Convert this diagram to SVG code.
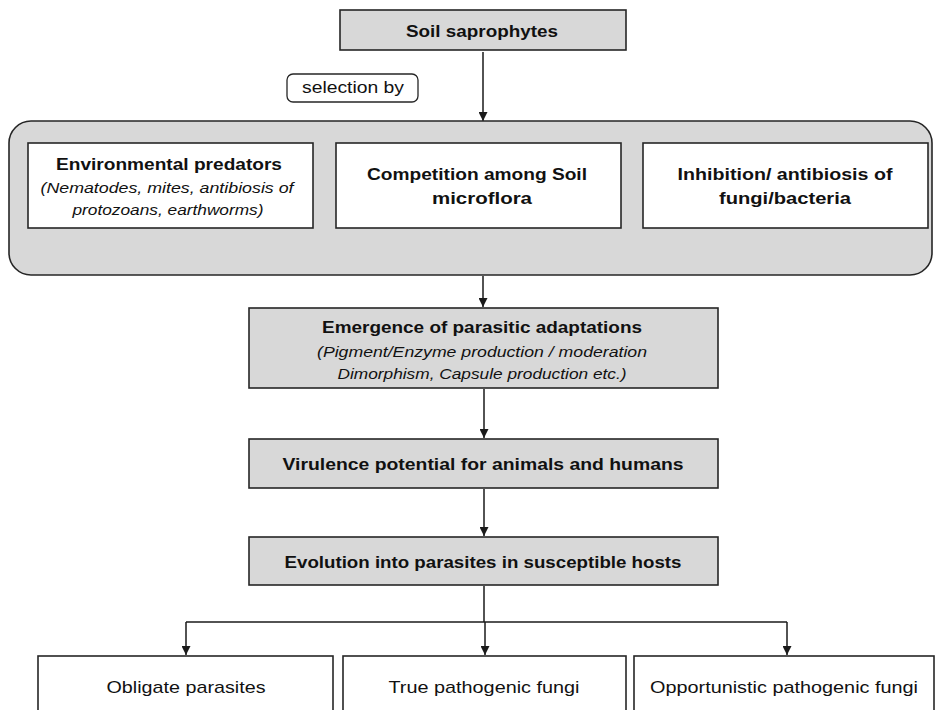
<svg xmlns="http://www.w3.org/2000/svg" width="936" height="710" viewBox="0 0 936 710">
  <defs>
    <marker id="arrow" viewBox="0 0 10 10" refX="10" refY="5" markerWidth="9" markerHeight="9" markerUnits="userSpaceOnUse" orient="auto">
      <path d="M0,0 L10,5 L0,10 z" fill="#1a1a1a"/>
    </marker>
    <style>
      .grey { fill: #d8d8d8; stroke: #262626; stroke-width: 1.6; }
      .white { fill: #ffffff; stroke: #262626; stroke-width: 1.6; }
      .t { font-family: "Liberation Sans", Arial, sans-serif; fill: #111; text-anchor: middle; }
      .b { font-weight: bold; font-size: 17px; }
      .i { font-style: italic; font-size: 15.5px; }
      .r { font-size: 17px; }
      .wire { fill: none; stroke: #1a1a1a; stroke-width: 1.5; }
    </style>
  </defs>
  <rect width="936" height="710" fill="#ffffff"/>

  <!-- connectors -->
  <g id="connectors">
    <line class="wire" x1="483" y1="52" x2="483" y2="121" marker-end="url(#arrow)"/>
    <line class="wire" x1="483" y1="276" x2="483" y2="307" marker-end="url(#arrow)"/>
    <line class="wire" x1="484" y1="389" x2="484" y2="438" marker-end="url(#arrow)"/>
    <line class="wire" x1="484" y1="489" x2="484" y2="536" marker-end="url(#arrow)"/>
    <polyline class="wire" points="484,586 484,622"/>
    <polyline class="wire" points="186,622 787,622"/>
    <line class="wire" x1="186" y1="622" x2="186" y2="655" marker-end="url(#arrow)"/>
    <line class="wire" x1="485" y1="622" x2="485" y2="655" marker-end="url(#arrow)"/>
    <line class="wire" x1="787" y1="622" x2="787" y2="655" marker-end="url(#arrow)"/>
  </g>

  <!-- source -->
  <g id="soil-saprophytes">
    <rect class="grey" x="340" y="10" width="286" height="40"/>
    <text class="t b" x="482" y="37" textLength="152" lengthAdjust="spacingAndGlyphs">Soil saprophytes</text>
  </g>

  <g id="selection-label">
    <rect x="287" y="74" width="131" height="28" rx="6" fill="#ffffff" stroke="#262626" stroke-width="1.3"/>
    <text class="t" x="353" y="93" font-size="16" textLength="102" lengthAdjust="spacingAndGlyphs">selection by</text>
  </g>

  <!-- selection pressures -->
  <g id="selection-pressures">
    <rect class="grey" x="9" y="121" width="923" height="154" rx="22"/>
  </g>

  <g id="environmental-predators">
    <rect class="white" x="28" y="143" width="285" height="85"/>
    <text class="t b" x="169" y="170" textLength="226" lengthAdjust="spacingAndGlyphs">Environmental predators</text>
    <text class="t i" x="167" y="193" textLength="253" lengthAdjust="spacingAndGlyphs">(Nematodes, mites, antibiosis of</text>
    <text class="t i" x="168" y="215" textLength="191" lengthAdjust="spacingAndGlyphs">protozoans, earthworms)</text>
  </g>

  <g id="competition">
    <rect class="white" x="336" y="143" width="285" height="85"/>
    <text class="t b" x="477" y="180" textLength="220" lengthAdjust="spacingAndGlyphs">Competition among Soil</text>
    <text class="t b" x="482" y="204" textLength="100" lengthAdjust="spacingAndGlyphs">microflora</text>
  </g>

  <g id="inhibition">
    <rect class="white" x="643" y="143" width="285" height="85"/>
    <text class="t b" x="785" y="180" textLength="215" lengthAdjust="spacingAndGlyphs">Inhibition/ antibiosis of</text>
    <text class="t b" x="785" y="204" textLength="132" lengthAdjust="spacingAndGlyphs">fungi/bacteria</text>
  </g>

  <!-- main chain -->
  <g id="emergence">
    <rect class="grey" x="249" y="308" width="469" height="80"/>
    <text class="t b" x="482" y="333" textLength="320" lengthAdjust="spacingAndGlyphs">Emergence of parasitic adaptations</text>
    <text class="t i" x="482" y="357" textLength="330" lengthAdjust="spacingAndGlyphs">(Pigment/Enzyme production / moderation</text>
    <text class="t i" x="482" y="379" textLength="289" lengthAdjust="spacingAndGlyphs">Dimorphism, Capsule  production etc.)</text>
  </g>

  <g id="virulence">
    <rect class="grey" x="249" y="439" width="469" height="49"/>
    <text class="t b" x="483" y="470" textLength="401" lengthAdjust="spacingAndGlyphs">Virulence potential for animals and humans</text>
  </g>

  <g id="evolution">
    <rect class="grey" x="249" y="537" width="469" height="48"/>
    <text class="t b" x="483" y="568" textLength="397" lengthAdjust="spacingAndGlyphs">Evolution into parasites in susceptible hosts</text>
  </g>

  <!-- outcomes -->
  <g id="obligate">
    <rect class="white" x="38" y="656" width="295" height="70"/>
    <text class="t r" x="186" y="693" textLength="159" lengthAdjust="spacingAndGlyphs">Obligate parasites</text>
  </g>

  <g id="true-pathogenic">
    <rect class="white" x="343" y="656" width="283" height="70"/>
    <text class="t r" x="484" y="693" textLength="191" lengthAdjust="spacingAndGlyphs">True pathogenic fungi</text>
  </g>

  <g id="opportunistic">
    <rect class="white" x="634" y="656" width="300" height="70"/>
    <text class="t r" x="784" y="693" textLength="268" lengthAdjust="spacingAndGlyphs">Opportunistic pathogenic fungi</text>
  </g>
</svg>
